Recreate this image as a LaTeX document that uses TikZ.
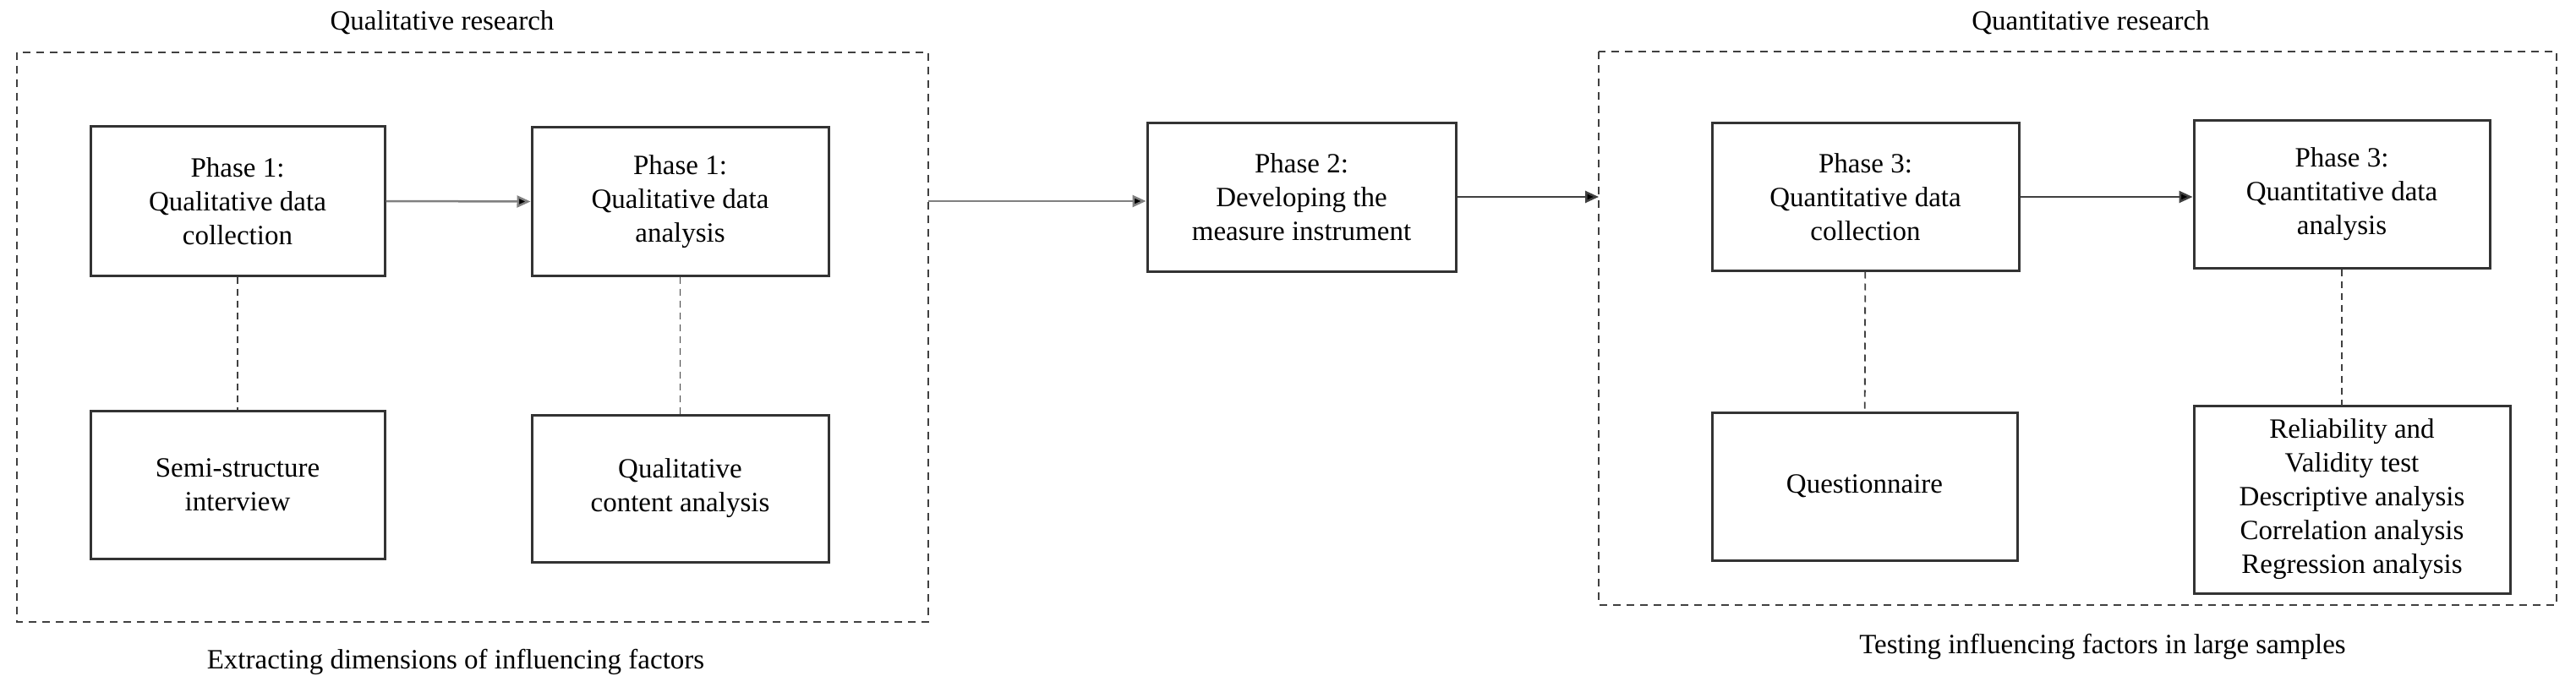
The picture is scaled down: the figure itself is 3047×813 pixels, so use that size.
\documentclass[tikz,border=0pt]{standalone}
\usepackage{fontspec}
\setmainfont{Liberation Serif}
\usetikzlibrary{arrows.meta}
\begin{document}
\begin{tikzpicture}[x=1pt,y=-1pt,
  every node/.style={font=\fontsize{33}{40}\selectfont},
  box/.style={draw=black!80,line width=3pt,align=center,inner sep=0pt},
  grp/.style={draw=black!75,line width=2pt,dash pattern=on 9pt off 7pt},
  link/.style={draw=black!75,line width=1.8pt,dash pattern=on 8pt off 6pt},
  arr/.style={draw=black!50,line width=2.5pt,-{Triangle[length=16pt,width=14pt,fill=black]}}]
\useasboundingbox (0,0) rectangle (3047,813);
\draw[grp] (20,62) rectangle (1098,736);
\draw[grp] (1891,61) rectangle (3024,716);
\node (t1) at (523,27) {Qualitative research};
\node (b1) at (539,783) {Extracting dimensions of influencing factors};
\node (t2) at (2473,27) {Quantitative research};
\node (b2) at (2487,765) {Testing influencing factors in large samples};
\coordinate (lr) at (1098,238);
\coordinate (rl) at (1891,233);
\node[box,minimum width=348pt,minimum height=176pt] (A) at (281,238) {Phase 1:\\Qualitative data\\collection};
\node[box,minimum width=351pt,minimum height=175pt] (B) at (804.5,238.5) {Phase 1:\\Qualitative data\\analysis};
\node[box,minimum width=348pt,minimum height=175pt] (C) at (281,573.5) {Semi-structure\\interview};
\node[box,minimum width=351pt,minimum height=174pt] (D) at (804.5,578) {Qualitative\\content analysis};
\node[box,minimum width=365pt,minimum height=175pt] (P2) at (1539.5,233.5) {Phase 2:\\Developing the\\measure instrument};
\node[box,minimum width=363pt,minimum height=174pt] (E) at (2206.5,233) {Phase 3:\\Quantitative data\\collection};
\node[box,minimum width=350pt,minimum height=174pt] (F) at (2770,230) {Phase 3:\\Quantitative data\\analysis};
\node[box,minimum width=361pt,minimum height=175pt] (G) at (2205.5,575.5) {Questionnaire};
\node[box,minimum width=374pt,minimum height=222pt] (H) at (2782,591) {Reliability and\\Validity test\\Descriptive analysis\\Correlation analysis\\Regression analysis};
\draw[arr] (A.east) -- (B.west);
\draw[arr] (lr) -- (P2.west|-lr);
\draw[arr,draw=black!75] (P2.east|-rl) -- (rl);
\draw[arr,draw=black!75] (E.east) -- (F.west|-E.east);
\draw[link] (A) -- (C);
\draw[link] (B) -- (D);
\draw[link] (E) -- (G);
\draw[link] (F.south-|2770,0) -- (2770,480);
\end{tikzpicture}
\end{document}
